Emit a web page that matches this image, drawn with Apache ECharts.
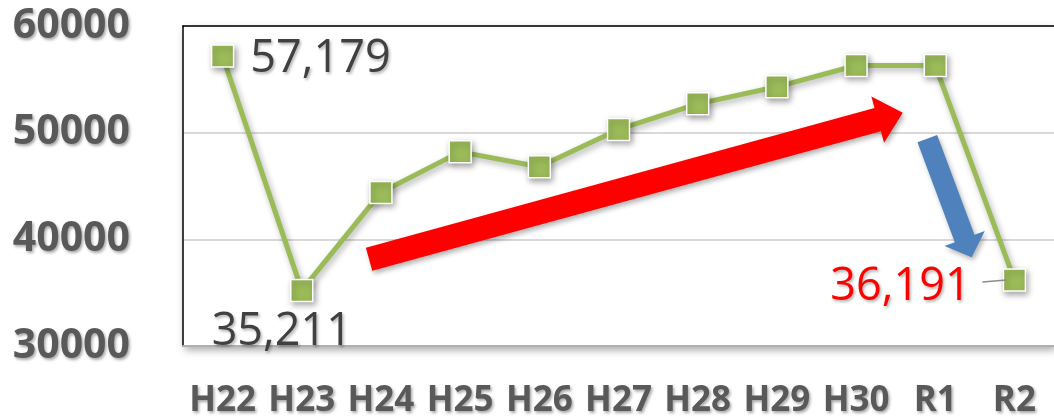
<!DOCTYPE html>
<html>
<head>
<meta charset="utf-8">
<script src="https://cdn.jsdelivr.net/npm/echarts@6/dist/echarts.min.js"></script>
<style>
html,body{margin:0;padding:0;background:#fff;}
#c{width:1054px;height:419px;}
</style>
</head>
<body>
<div id="c"></div>
<script>
const categories = ['H22','H23','H24','H25','H26','H27','H28','H29','H30','R1','R2'];
const values = [57179, 35211, 44400, 48200, 46800, 50300, 52700, 54300, 56300, 56300, 36191];
const yTicks = [30000, 40000, 50000, 60000];
// labelled points: index -> colour
const labelled = {0: '#404040', 1: '#404040', 10: '#FF0000'};
// annotation arrows in data space: [categoryIndex, value]
const redArrow = {tail: [1.85, 38130], tip: [8.59, 51870]};
const blueArrow = {tail: [8.90, 49440], tip: [9.46, 38320]};

const chart = echarts.init(document.getElementById('c'));
const seriesData = values.map((v, i) => {
  const d = {value: v};
  if (labelled[i]) {
    d.label = {show: true, color: labelled[i]};
    if (i === 0) { d.label.position = 'right'; d.label.distance = 18; d.label.offset = [-2, 3]; }
    if (i === 1) { d.label.position = 'bottom'; d.label.distance = 8; d.label.offset = [-20, 0]; }
    if (i === 10) { d.label.position = 'left'; d.label.distance = 32; d.label.offset = [0, 7]; }
  }
  return d;
});

const labelShadow = {textShadowColor: 'rgba(0,0,0,0.35)', textShadowBlur: 3, textShadowOffsetX: 1.5, textShadowOffsetY: 2};

chart.setOption({
  animation: false,
  grid: {
    left: 183, right: 0, top: 26, bottom: 72,
    show: true, backgroundColor: '#fff', borderColor: '#000', borderWidth: 0,
    shadowColor: 'rgba(0,0,0,0.35)', shadowBlur: 8, shadowOffsetX: 2, shadowOffsetY: 4
  },
  xAxis: [{
    type: 'category', data: categories, boundaryGap: true,
    axisLine: {show: true, lineStyle: {color: '#b0b0b0', width: 2}},
    axisTick: {show: false},
    axisLabel: Object.assign({
      interval: 0, margin: 38, fontFamily: 'Open Sans', fontWeight: 'bold', fontSize: 35,
      color: '#595959'
    }, labelShadow),
    splitLine: {show: false}
  }, {
    type: 'category', data: categories, position: 'top', boundaryGap: true,
    axisLine: {show: true, lineStyle: {color: '#000', width: 1.5}},
    axisTick: {show: false}, axisLabel: {show: false}, splitLine: {show: false}
  }],
  yAxis: {
    type: 'value', min: yTicks[0], max: yTicks[yTicks.length - 1], interval: 10000,
    axisLine: {show: true, lineStyle: {color: '#000', width: 1.5}}, axisTick: {show: false},
    axisLabel: Object.assign({
      margin: 53, fontFamily: 'Open Sans', fontWeight: 'bold', fontSize: 41,
      color: '#595959', formatter: v => String(v)
    }, labelShadow),
    splitLine: {show: true, lineStyle: {color: '#d9d9d9', width: 2}}
  },
  series: [{
    type: 'line', data: seriesData,
    symbol: 'rect', symbolSize: 22,
    lineStyle: {color: '#9BBB59', width: 5, shadowColor: 'rgba(0,0,0,0.3)', shadowBlur: 6, shadowOffsetX: 2, shadowOffsetY: 3},
    itemStyle: {color: '#9BBB59', borderColor: '#fff', borderWidth: 1.5, shadowColor: 'rgba(0,0,0,0.35)', shadowBlur: 6, shadowOffsetX: 2, shadowOffsetY: 3},
    label: Object.assign({
      show: false, fontFamily: 'Open Sans', fontSize: 45,
      formatter: p => p.value.toLocaleString('en-US')
    }, {textShadowColor: 'rgba(0,0,0,0.3)', textShadowBlur: 3, textShadowOffsetX: 1.5, textShadowOffsetY: 2}),
    z: 3
  }]
});

function px(pt) {
  const a = chart.convertToPixel({gridIndex: 0}, [0, pt[1]]);
  const b = chart.convertToPixel({gridIndex: 0}, [1, pt[1]]);
  return [a[0] + pt[0] * (b[0] - a[0]), a[1]];
}
function arrowPoly(arrow, w, hw, hl) {
  const T = px(arrow.tail), P = px(arrow.tip);
  const dx = P[0] - T[0], dy = P[1] - T[1];
  const L = Math.hypot(dx, dy);
  const u = [dx / L, dy / L], n = [-u[1], u[0]];
  const B = [P[0] - u[0] * hl, P[1] - u[1] * hl];
  const add = (p, k) => [p[0] + n[0] * k, p[1] + n[1] * k];
  return [add(T, w / 2), add(B, w / 2), add(B, hw / 2), P, add(B, -hw / 2), add(B, -w / 2), add(T, -w / 2)];
}
chart.setOption({
  graphic: [
    {type: 'polygon', z: 10, shape: {points: arrowPoly(redArrow, 24, 48, 26)},
     style: {fill: '#FF0000', shadowColor: 'rgba(0,0,0,0.3)', shadowBlur: 5, shadowOffsetX: 2, shadowOffsetY: 3}},
    {type: 'polygon', z: 10, shape: {points: arrowPoly(blueArrow, 21, 43, 20)},
     style: {fill: '#4F81BD', shadowColor: 'rgba(0,0,0,0.3)', shadowBlur: 5, shadowOffsetX: 2, shadowOffsetY: 3}},
    (function () {
      const p = chart.convertToPixel({gridIndex: 0}, [10, values[10]]);
      return {type: 'line', z: 10, shape: {x1: p[0] - 32, y1: p[1] + 2, x2: p[0] - 8, y2: p[1]},
              style: {stroke: '#8c8c8c', lineWidth: 1.5}};
    })()
  ]
});
</script>
</body>
</html>
